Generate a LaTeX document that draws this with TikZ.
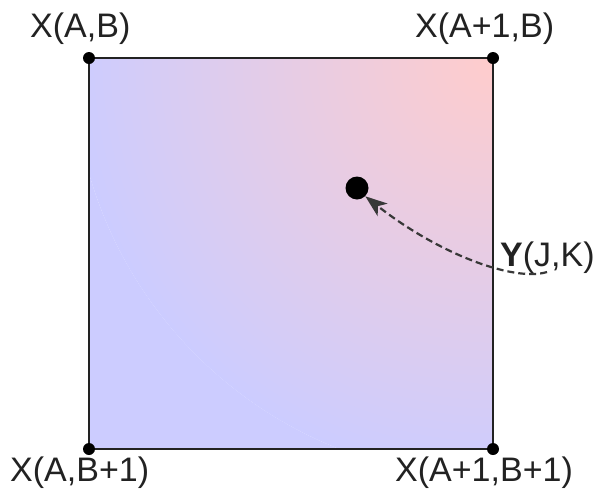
\documentclass[tikz,border=0pt]{standalone}
\usepackage{fontspec}
\setmainfont{Liberation Sans}
\usetikzlibrary{arrows.meta}
\definecolor{pinkc}{HTML}{FFCCCC}
\definecolor{bluec}{HTML}{CCCCFF}
\definecolor{ink}{HTML}{222222}
\begin{document}
\begin{tikzpicture}[x=1pt,y=-1pt,
  lbl/.style={font=\fontsize{34}{34}\selectfont, text=ink, inner sep=0pt, anchor=base west},
  cdot/.style={circle, fill=black, inner sep=0pt, minimum size=12pt},
  bigdot/.style={circle, fill=black, inner sep=0pt, minimum size=23pt},
  conn/.style={draw=ink!90, line width=2.2pt, dash pattern=on 7pt off 4pt, -{Stealth[length=22pt,width=16pt,inset=6pt]}}]
\useasboundingbox (0,0) rectangle (614,488);
\fill[white] (0,0) rectangle (614,488);
\begin{scope}
  \clip (89,58) rectangle (493,449);
  \shade[inner color=pinkc, outer color=bluec] (493,58) circle[radius=420pt];
  \fill[bluec, even odd rule] (89,58) rectangle (493,449) (493,58) circle[radius=420pt];
\end{scope}
\draw[ink, line width=1.6pt] (89,58) rectangle (493,449);
\node[cdot] (tl) at (89,58) {};
\node[cdot] (tr) at (493,58) {};
\node[cdot] (bl) at (89,449) {};
\node[cdot] (br) at (493,449) {};
\node[bigdot] (y) at (357,188) {};
\node[lbl] (ltl) at (30,37) {X(A,B)};
\node[lbl] (ltr) at (415,37) {X(A+1,B)};
\node[lbl] (lbl) at (10,481) {X(A,B+1)};
\node[lbl] (lbr) at (395,481) {X(A+1,B+1)};
\node[lbl] (ly) at (500,266) {\textbf{Y}(J,K)};
\coordinate (s) at (547,272);
\draw[conn] (s) .. controls (515,282) and (440,255) .. (y.south east);
\end{tikzpicture}
\end{document}
